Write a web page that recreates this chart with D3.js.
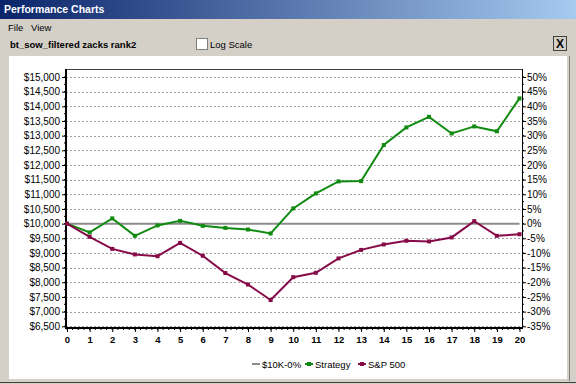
<!DOCTYPE html>
<html lang="en">
<head>
<meta charset="UTF-8">
<title>Performance Charts</title>
<script src="https://d3js.org/d3.v7.min.js"></script>
<style>
    body { margin: 0; background: #d4d0c8; }
    svg { display: block; }
    text { font-family: "Liberation Sans", Arial, sans-serif; font-size: 9.5px; fill: #000; }
    .grid line { stroke: #a0a0a0; stroke-dasharray: 2,2; }
</style>
</head>
<body>
<script>
    // chart values
    const periods = [0, 1, 2, 3, 4, 5, 6, 7, 8, 9, 10, 11, 12, 13, 14, 15, 16, 17, 18, 19, 20];
    const strategy = [10000, 9700, 10180, 9585, 9940, 10095, 9925, 9855, 9800, 9665, 10520,
                      11030, 11440, 11450, 12680, 13280, 13640, 13075, 13315, 13150, 14270];
    const sp500 = [10000, 9550, 9140, 8950, 8890, 9345, 8905, 8315, 7925, 7395, 8175,
                   8325, 8815, 9105, 9290, 9415, 9395, 9530, 10085, 9585, 9640];
    const base10k = periods.map(() => 10000);
    const dollarTicks = [6500, 7000, 7500, 8000, 8500, 9000, 9500, 10000, 10500, 11000,
                         11500, 12000, 12500, 13000, 13500, 14000, 14500, 15000];
    const pctTicks = [-35, -30, -25, -20, -15, -10, -5, 0, 5, 10, 15, 20, 25, 30, 35, 40, 45, 50];

    const W = 576, H = 384;
    const svg = d3.select("body").append("svg").attr("width", W).attr("height", H);
    const tickFont = "10px";

    // window chrome
    const grad = svg.append("defs").append("linearGradient").attr("id", "tb");
    grad.append("stop").attr("offset", "0%").attr("stop-color", "#0a246a");
    grad.append("stop").attr("offset", "100%").attr("stop-color", "#a6caf0");
    svg.append("rect").attr("width", W).attr("height", H).attr("fill", "#d4d0c8");
    svg.append("rect").attr("x", 0).attr("y", 0).attr("width", W).attr("height", 19).attr("fill", "url(#tb)");
    svg.append("text").attr("x", 4).attr("y", 13)
        .style("fill", "#fff").style("font-weight", "bold").style("font-size", "10.5px")
        .text("Performance Charts");
    svg.append("text").attr("x", 8).attr("y", 31).text("File");
    svg.append("text").attr("x", 31).attr("y", 31).text("View");
    svg.append("text").attr("x", 10).attr("y", 48).style("font-weight", "bold").text("bt_sow_filtered zacks rank2");
    svg.append("rect").attr("x", 196.5).attr("y", 38.5).attr("width", 11).attr("height", 11)
        .attr("fill", "#fff").attr("stroke", "#808080");
    svg.append("text").attr("x", 210).attr("y", 48).text("Log Scale");
    svg.append("rect").attr("x", 553.5).attr("y", 36.5).attr("width", 13).attr("height", 14)
        .attr("fill", "#d4d0c8").attr("stroke", "#404040");
    svg.append("text").attr("x", 560).attr("y", 48).attr("text-anchor", "middle")
        .style("font-weight", "bold").style("font-size", "12px").text("X");

    // white panel
    svg.append("rect").attr("x", 9).attr("y", 56).attr("width", 558).attr("height", 323).attr("fill", "#fff");
    svg.append("line").attr("x1", 569.5).attr("x2", 569.5).attr("y1", 56).attr("y2", 381).attr("stroke", "#808080");
    svg.append("line").attr("x1", 0).attr("x2", W).attr("y1", 382.5).attr("y2", 382.5).attr("stroke", "#404040");

    const pLeft = 66, pRight = 522, pTop = 69, pBottom = 328;
    const x = d3.scaleLinear().domain([0, 20]).range([67, 519.5]);
    const y = d3.scaleLinear().domain([6500, 15000]).range([326.3, 77]);

    // grid
    svg.append("g").attr("class", "grid").selectAll("line")
        .data(dollarTicks.filter(d => d !== 10000))
        .join("line")
        .attr("x1", pLeft).attr("x2", pRight)
        .attr("y1", d => Math.round(y(d)) + 0.5).attr("y2", d => Math.round(y(d)) + 0.5);

    // axes
    const yMinor = d3.range(6500, 15001, 250);
    const leftAxis = d3.axisLeft(y).tickValues(dollarTicks).tickSize(4)
        .tickFormat(d => "$" + d3.format(",")(d));
    const gL = svg.append("g").attr("transform", `translate(${pLeft},0)`).call(leftAxis);
    gL.select(".domain").remove();
    gL.selectAll("text").attr("x", -6).style("font-family", "Liberation Sans, Arial, sans-serif").style("font-size", tickFont);
    svg.append("g").selectAll("line").data(yMinor).join("line")
        .attr("x1", pLeft - 2).attr("x2", pLeft)
        .attr("y1", d => y(d)).attr("y2", d => y(d)).attr("stroke", "#000");

    const rightAxis = d3.axisRight(y).tickValues(pctTicks.map(p => 10000 * (1 + p / 100))).tickSize(4)
        .tickFormat((d, i) => pctTicks[i] + "%");
    const gR = svg.append("g").attr("transform", `translate(${pRight},0)`).call(rightAxis);
    gR.select(".domain").remove();
    gR.selectAll("text").attr("x", 5).style("font-family", "Liberation Sans, Arial, sans-serif").style("font-size", tickFont);
    svg.append("g").selectAll("line").data(yMinor).join("line")
        .attr("x1", pRight).attr("x2", pRight + 2)
        .attr("y1", d => y(d)).attr("y2", d => y(d)).attr("stroke", "#000");

    const bottomAxis = d3.axisBottom(x).tickValues(periods).tickSize(4).tickFormat(d => d);
    const gB = svg.append("g").attr("transform", `translate(0,${pBottom})`).call(bottomAxis);
    gB.select(".domain").remove();
    gB.selectAll("text").attr("y", 8)
        .style("font-family", "Liberation Sans, Arial, sans-serif").style("font-size", "9.5px").style("font-weight", "bold");
    svg.append("g").selectAll("line").data(d3.range(0, 20.01, 0.25)).join("line")
        .attr("x1", d => x(d)).attr("x2", d => x(d))
        .attr("y1", pBottom).attr("y2", pBottom + 2).attr("stroke", "#000");

    // frame
    svg.append("line").attr("x1", pLeft).attr("x2", pRight).attr("y1", pTop + 0.5).attr("y2", pTop + 0.5).attr("stroke", "#404040");
    svg.append("line").attr("x1", pRight + 0.5).attr("x2", pRight + 0.5).attr("y1", pTop).attr("y2", pBottom).attr("stroke", "#000");
    svg.append("line").attr("x1", pLeft).attr("x2", pLeft).attr("y1", pTop).attr("y2", pBottom + 1).attr("stroke", "#000").attr("stroke-width", 2);
    svg.append("line").attr("x1", pLeft).attr("x2", pRight + 1).attr("y1", pBottom).attr("y2", pBottom).attr("stroke", "#000").attr("stroke-width", 2);

    // series
    const line = d3.line().x((d, i) => x(periods[i])).y(d => y(d));
    const series = [
        { name: "$10K-0%", values: base10k, color: "#8c8c8c", marker: false },
        { name: "Strategy", values: strategy, color: "#108a10", marker: true },
        { name: "S&P 500", values: sp500, color: "#860a48", marker: true }
    ];
    series.forEach(s => {
        svg.append("path").datum(s.values).attr("d", line)
            .attr("fill", "none").attr("stroke", s.color).attr("stroke-width", 2);
        if (s.marker) {
            svg.append("g").selectAll("rect").data(s.values).join("rect")
                .attr("x", (d, i) => x(periods[i]) - 2).attr("y", d => y(d) - 2)
                .attr("width", 4).attr("height", 4).attr("fill", s.color);
        }
    });

    // legend
    const lg = svg.append("g").attr("transform", "translate(0,364)");
    const legendX = [252, 305, 358];
    series.forEach((s, i) => {
        const g = lg.append("g").attr("transform", `translate(${legendX[i]},0)`);
        g.append("line").attr("x1", 0).attr("x2", 8).attr("stroke", s.color).attr("stroke-width", 2);
        if (s.marker) g.append("rect").attr("x", 2).attr("y", -2).attr("width", 4).attr("height", 4).attr("fill", s.color);
        g.append("text").attr("x", 10).attr("y", 3.5).text(s.name);
    });
</script>
</body>
</html>
